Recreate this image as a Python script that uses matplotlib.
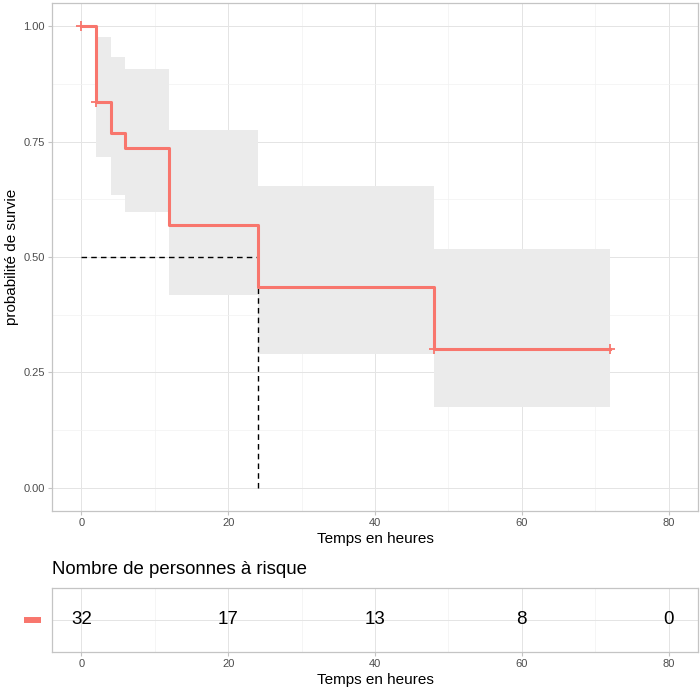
import matplotlib
matplotlib.use("Agg")
import matplotlib.pyplot as plt
from matplotlib.ticker import MultipleLocator

plt.rcParams['font.family'] = ['Liberation Sans', 'DejaVu Sans']

# ----- data -----
times = [0, 2, 4, 6, 12, 24, 48, 72]
surv = [1.0, 0.836, 0.769, 0.736, 0.569, 0.435, 0.300, 0.300]
upper = [1.0, 0.976, 0.933, 0.908, 0.776, 0.654, 0.518, 0.518]
lower = [1.0, 0.717, 0.635, 0.597, 0.418, 0.289, 0.176, 0.176]
censor_t = [0, 2, 48, 72]
censor_s = [1.0, 0.836, 0.300, 0.300]
median_t = 24
median_s = 0.5

risk_t = [0, 20, 40, 60, 80]
risk_n = [32, 17, 13, 8, 0]

x_ticks = [0, 20, 40, 60, 80]
y_ticks = [0.0, 0.25, 0.50, 0.75, 1.0]

red = "#F8766D"
border = "#C4C4C4"
grid_major = "#E4E4E4"
grid_minor = "#F1F1F1"
tick_text = "#4D4D4D"

W, H = 700, 689
fig = plt.figure(figsize=(W / 100, H / 100), dpi=100)


def px_axes(left, top, right, bottom):
    return fig.add_axes([left / W, 1 - bottom / H, (right - left) / W, (bottom - top) / H])


def style(ax):
    for s in ax.spines.values():
        s.set_color(border)
        s.set_linewidth(0.9)
    ax.set_xlim(-4, 84)
    ax.set_xticks(x_ticks)
    ax.xaxis.set_minor_locator(MultipleLocator(10))
    ax.grid(True, which='major', color=grid_major, lw=0.7)
    ax.grid(True, which='minor', color=grid_minor, lw=0.5)
    ax.set_axisbelow(True)
    ax.tick_params(which='major', length=3, width=0.8, color=border,
                   labelsize=8, labelcolor=tick_text, pad=2)
    ax.tick_params(which='minor', length=0)
    ax.set_xlabel("Temps en heures", fontsize=11, labelpad=3)


# ----- survival curve -----
ax = px_axes(52, 3, 698, 511)
style(ax)
ax.set_ylim(-0.05, 1.05)
ax.set_yticks(y_ticks)
ax.set_yticklabels([f"{v:.2f}" for v in y_ticks])
ax.yaxis.set_minor_locator(MultipleLocator(0.125))

ax.fill_between(times, lower, upper, step='post', color="#EBEBEB", lw=0, zorder=1)
ax.step(times, surv, where='post', color=red, lw=2.2, zorder=3)
ax.plot(censor_t, censor_s, ls='none', marker='+', ms=7, mew=1.3, color=red, zorder=4)

ax.plot([0, median_t], [median_s, median_s], ls=(0, (4, 3)), color="black", lw=1.0, zorder=2)
ax.plot([median_t, median_t], [0, median_s], ls=(0, (4, 3)), color="black", lw=1.0, zorder=2)

ax.set_ylabel("probabilité de survie", fontsize=11, labelpad=3)

# ----- risk table -----
fig.text(52 / W, 1 - 570 / H, "Nombre de personnes à risque", fontsize=13.4,
         ha='left', va='center')

axr = px_axes(52, 588, 698, 652)
style(axr)
axr.set_ylim(0.5, 1.5)
axr.set_yticks([1])
axr.set_yticklabels([""])
axr.tick_params(axis='y', length=0)
for t, n in zip(risk_t, risk_n):
    axr.text(t, 1, str(n), ha='center', va='center', fontsize=13.5, color="black")
axr.plot([-0.043, -0.017], [0.5, 0.5], transform=axr.transAxes, clip_on=False,
         color=red, lw=4.3, solid_capstyle='butt')

fig.savefig("out.png", dpi=100)
